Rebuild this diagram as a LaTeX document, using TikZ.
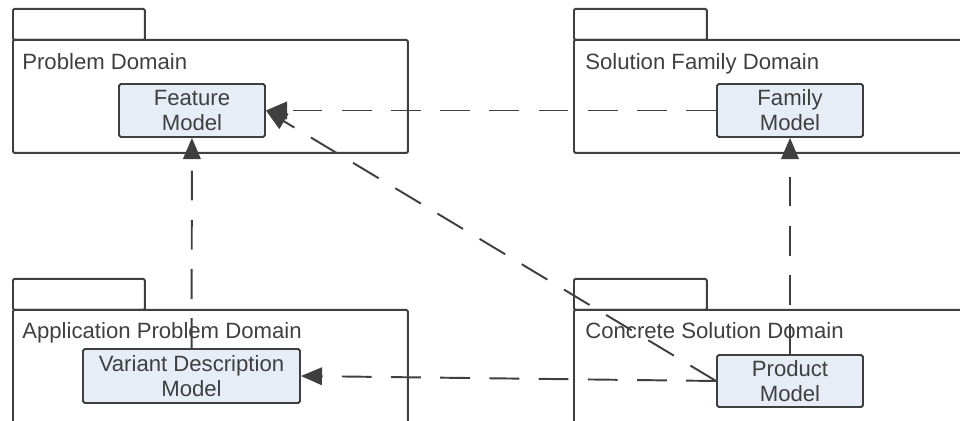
\documentclass[tikz,border=0pt]{standalone}
\usepackage{fontspec}
\setmainfont{Liberation Sans}
\usetikzlibrary{arrows.meta}
\definecolor{edge}{HTML}{3F3F3F}
\definecolor{boxfill}{HTML}{E6EDF7}
\tikzset{
  pkg/.style={draw=edge, line width=1.1pt, rounded corners=0.8pt, anchor=north west, inner sep=0pt},
  pkgtitle/.style={anchor=base west, inner sep=0pt, text=edge, font=\fontsize{12.6}{14}\selectfont},
  model/.style={draw=edge, fill=boxfill, line width=1.1pt, rounded corners=1pt, align=center, inner sep=0pt, text=edge, font=\fontsize{12.6}{14.2}\selectfont},
  dep/.style={draw=edge, line width=1.1pt, dash pattern=on 17pt off 11pt, -{Triangle[length=12pt,width=10pt]}}
}
\begin{document}
\begin{tikzpicture}[x=0.02cm,y=-0.02cm]
\useasboundingbox (0,0) rectangle (960,421);
\clip (0,0) rectangle (960,421);
\node[pkg, minimum width=2.64cm, minimum height=0.62cm] (pdt) at (12,8) {};
\node[pkg, minimum width=7.9cm, minimum height=2.26cm] (pd) at (12,39) {};
\node[pkgtitle] (pdl) at (22,70) {Problem Domain};
\node[pkg, minimum width=2.66cm, minimum height=0.62cm] (sft) at (573,8) {};
\node[pkg, minimum width=8.3cm, minimum height=2.26cm] (sf) at (573,39) {};
\node[pkgtitle] (sfl) at (585,70) {Solution Family Domain};
\node[pkg, minimum width=2.64cm, minimum height=0.62cm] (apt) at (12,278) {};
\node[pkg, minimum width=7.9cm, minimum height=2.6cm] (ap) at (12,309) {};
\node[pkgtitle] (apl) at (22,339) {Application Problem Domain};
\node[pkg, minimum width=2.66cm, minimum height=0.62cm] (cst) at (573,278) {};
\node[pkg, minimum width=8.3cm, minimum height=2.6cm] (cs) at (573,309) {};
\node[pkgtitle] (csl) at (585,339) {Concrete Solution Domain};
\node[model, minimum width=2.92cm, minimum height=1.06cm] (fm) at (192,110.5) {Feature\\Model};
\node[model, minimum width=2.92cm, minimum height=1.06cm] (fam) at (790,110.5) {Family\\Model};
\node[model, minimum width=4.34cm, minimum height=1.08cm] (vdm) at (191.5,376) {Variant Description\\Model};
\node[model, minimum width=2.92cm, minimum height=1.04cm] (pm) at (790,381) {Product\\Model};
\draw[dep] (fam) -- (fm);
\draw[dep] (pm.west) -- (fm.east);
\draw[dep] (pm) -- (fam);
\draw[dep] (pm.west) -- (vdm.east);
\draw[dep] (vdm) -- (fm);
\end{tikzpicture}
\end{document}
